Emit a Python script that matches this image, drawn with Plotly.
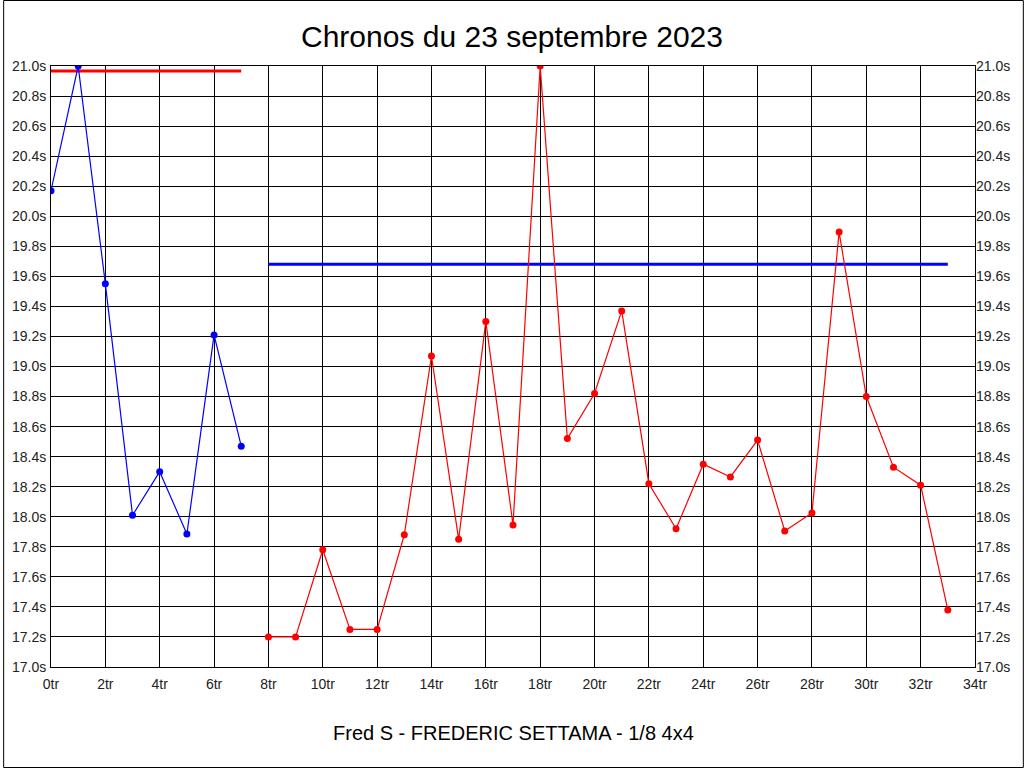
import plotly.graph_objects as go

blue_x = [0, 1, 2, 3, 4, 5, 6, 7]
blue_y = [20.17, 21.0, 19.55, 18.01, 18.30, 17.885, 19.21, 18.47]

red_x = list(range(8, 34))
red_y = [17.20, 17.20, 17.78, 17.25, 17.25, 17.88, 19.07, 17.85, 19.30, 17.945,
         21.0, 18.52, 18.82, 19.37, 18.22, 17.92, 18.35, 18.265, 18.51, 17.905,
         18.025, 19.895, 18.80, 18.33, 18.21, 17.38]

red_avg_x = [0, 7]
red_avg_y = [20.967, 20.967]
blue_avg_x = [8, 33]
blue_avg_y = [19.68, 19.68]

title = "Chronos du 23 septembre 2023"
subtitle = "Fred S - FREDERIC SETTAMA - 1/8 4x4"

font = "Liberation Sans, Arial, sans-serif"

fig = go.Figure()
fig.add_trace(go.Scatter(x=red_avg_x, y=red_avg_y, mode="lines",
                         line=dict(color="#ff0000", width=3), showlegend=False))
fig.add_trace(go.Scatter(x=blue_avg_x, y=blue_avg_y, mode="lines",
                         line=dict(color="#0000ff", width=3), showlegend=False))
fig.add_trace(go.Scatter(x=blue_x, y=blue_y, mode="lines+markers",
                         line=dict(color="#0000ff", width=1.2),
                         marker=dict(color="#0000ff", size=7), showlegend=False))
fig.add_trace(go.Scatter(x=red_x, y=red_y, mode="lines+markers",
                         line=dict(color="#ff0000", width=1.2),
                         marker=dict(color="#ff0000", size=7), showlegend=False))
# invisible trace for right axis
fig.add_trace(go.Scatter(x=[0], y=[17.0], yaxis="y2", mode="markers",
                         marker=dict(opacity=0), showlegend=False, hoverinfo="skip"))

L, R, T, B = 48, 49, 66, 101
W, H = 1024, 768
pw, ph = W - L - R, H - T - B

tickfont = dict(family=font, size=14, color="#222222")
axis_common = dict(showline=True, linecolor="black", linewidth=1, mirror=True,
                   gridcolor="black", gridwidth=1, zeroline=False,
                   tickfont=tickfont, ticks="")

fig.update_layout(
    width=W, height=H,
    margin=dict(l=L, r=R, t=T, b=B),
    paper_bgcolor="white", plot_bgcolor="white",
    title=dict(text=title, x=0.5, xanchor="center", y=1 - 36 / H, yanchor="middle",
               font=dict(family=font, size=30, color="black")),
    xaxis=dict(range=[0, 34], dtick=2, tick0=0, ticksuffix="tr",
               ticklabelstandoff=4, **axis_common),
    yaxis=dict(range=[17.0, 21.0], dtick=0.2, tick0=17.0, tickformat=".1f",
               ticksuffix="s", ticklabelstandoff=1, **axis_common),
    yaxis2=dict(range=[17.0, 21.0], dtick=0.2, tick0=17.0, tickformat=".1f",
                ticksuffix="s", overlaying="y", side="right", showgrid=False,
                showline=False, zeroline=False, ticks="", tickfont=tickfont),
    annotations=[dict(text=subtitle, xref="paper", yref="paper", x=0.5,
                      y=-(733 - 667) / ph, yanchor="middle", showarrow=False,
                      font=dict(family=font, size=20, color="black"))],
    shapes=[dict(type="rect", xref="paper", yref="paper",
                 x0=-(L - 0.5) / pw, x1=1 + (R - 0.5) / pw,
                 y0=-(B - 0.5) / ph, y1=1 + (T - 0.5) / ph,
                 line=dict(color="black", width=1), layer="below")],
)

fig.write_html("out.html", config={"displayModeBar": False},
               post_script="document.body.style.margin='0';document.body.style.overflow='hidden';")
